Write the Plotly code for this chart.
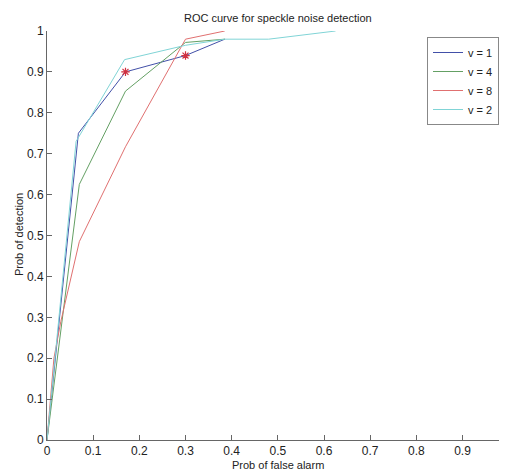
import plotly.graph_objects as go

# Data
v1_x = [0.0, 0.068, 0.17, 0.30, 0.385]
v1_y = [0.0, 0.75, 0.90, 0.94, 0.98]

v4_x = [0.0, 0.07, 0.17, 0.30, 0.385]
v4_y = [0.0, 0.625, 0.853, 0.972, 0.98]

v8_x = [0.0, 0.015, 0.03, 0.07, 0.17, 0.30, 0.385]
v8_y = [0.0, 0.20, 0.29, 0.485, 0.717, 0.98, 1.0]

v2_x = [0.0, 0.063, 0.168, 0.30, 0.385, 0.48, 0.625]
v2_y = [0.0, 0.73, 0.93, 0.965, 0.98, 0.98, 1.0]

star_idx = [2, 3]  # points of v = 1 marked with red stars

x_ticks = [0, 0.1, 0.2, 0.3, 0.4, 0.5, 0.6, 0.7, 0.8, 0.9]
x_tick_labels = ["0", "0.1", "0.2", "0.3", "0.4", "0.5", "0.6", "0.7", "0.8", "0.9"]
y_ticks = [0, 0.1, 0.2, 0.3, 0.4, 0.5, 0.6, 0.7, 0.8, 0.9, 1]
y_tick_labels = ["0", "0.1", "0.2", "0.3", "0.4", "0.5", "0.6", "0.7", "0.8", "0.9", "1"]

series = [
    ("v = 1", v1_x, v1_y, "#4250a8"),
    ("v = 4", v4_x, v4_y, "#64a064"),
    ("v = 8", v8_x, v8_y, "#e07070"),
    ("v = 2", v2_x, v2_y, "#80d4d6"),
]

fig = go.Figure()
for name, xs, ys, col in series:
    fig.add_trace(go.Scatter(x=xs, y=ys, mode="lines", name=name,
                             line=dict(color=col, width=1)))

fig.add_trace(go.Scatter(x=[v1_x[i] for i in star_idx], y=[v1_y[i] for i in star_idx],
                         mode="markers", showlegend=False,
                         marker=dict(symbol="asterisk-open", size=7, color="#d03040",
                                     line=dict(color="#d03040", width=1.2))))

font_family = "Liberation Sans, Arial, sans-serif"
OFF = 8  # page body margin
VIS_RIGHT = 499  # right edge of the visible page area
W, H = VIS_RIGHT - OFF, 472 - OFF
L, R, T = 47 - OFF, 0, 31 - OFF
B = H - (440 - OFF)
PW, PH = W - L - R, H - T - B
X_UNIT = 461.7  # pixels per unit on the x axis in the reference


def px(xp):  # page x -> paper x
    return (xp - OFF - L) / PW


def py(yp):  # page y -> paper y
    return (H - B - (yp - OFF)) / PH


fig.update_layout(
    width=W, height=H,
    margin=dict(l=L, r=R, t=T, b=B, autoexpand=False),
    paper_bgcolor="white", plot_bgcolor="white",
    font=dict(family=font_family, size=11, color="#222"),
    showlegend=True,
    legend=dict(x=1.0, y=py(37), xanchor="right", yanchor="top",
                bordercolor="#888", borderwidth=1, bgcolor="white",
                font=dict(size=11, color="#222"), itemwidth=30,
                tracegroupgap=0),
    xaxis=dict(range=[0, PW / X_UNIT], tickvals=x_ticks, ticktext=x_tick_labels,
               automargin=False, tickfont=dict(size=12),
               showgrid=False, zeroline=False, showline=True, linecolor="#666", linewidth=1,
               ticks="inside", ticklen=5, tickcolor="#666"),
    yaxis=dict(range=[0, 1], tickvals=y_ticks, ticktext=y_tick_labels,
               automargin=False, tickfont=dict(size=12),
               showgrid=False, zeroline=False, showline=True, linecolor="#666", linewidth=1,
               ticks="inside", ticklen=5, tickcolor="#666"),
    annotations=[
        dict(text="ROC curve for speckle noise detection", xref="paper", yref="paper",
             x=px(278), y=py(18), xanchor="center", yanchor="middle", showarrow=False,
             font=dict(size=11, color="#222")),
        dict(text="Prob of false alarm", xref="paper", yref="paper",
             x=px(278), y=py(465), xanchor="center", yanchor="middle", showarrow=False,
             font=dict(size=11, color="#222")),
        dict(text="Prob of detection", xref="paper", yref="paper", textangle=-90,
             x=px(19), y=py(235), xanchor="center", yanchor="middle", showarrow=False,
             font=dict(size=11, color="#222")),
    ],
)

fig.write_html("out.html")
